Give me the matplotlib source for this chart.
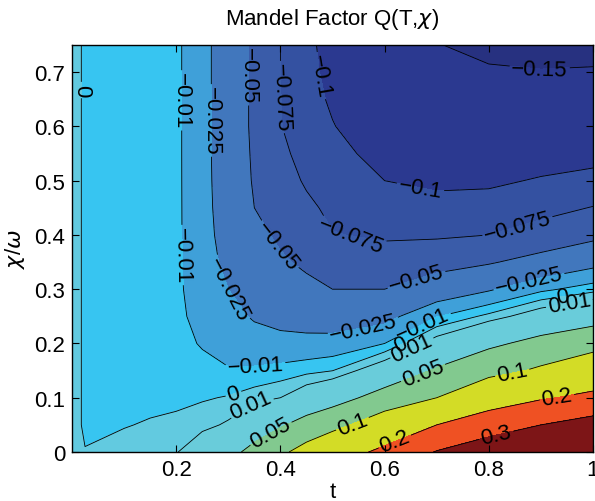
import numpy as np
import matplotlib
matplotlib.use("Agg")
import matplotlib.pyplot as plt

plt.rcParams['font.family'] = ['Liberation Sans', 'DejaVu Sans']
plt.rcParams['mathtext.fontset'] = 'dejavusans'

# grid: t along columns, chi/omega along rows
t_vals = [0.0, 0.025, 0.1, 0.15, 0.2, 0.25, 0.3, 0.35, 0.4, 0.45, 0.5, 0.6, 0.7, 0.8, 0.9, 1.0]
chi_vals = [0.0, 0.05, 0.1, 0.15, 0.2, 0.25, 0.3, 0.35, 0.4, 0.45, 0.5, 0.55, 0.6, 0.65, 0.7, 0.75]

# one list per t column, values for chi = 0 ... 0.75
q_t000 = [0.0005] * 16
q_t025 = [0.00005] + [-0.0002] * 15
q_t100 = [0.002, -0.0003, -0.0008] + [-0.001] * 13
q_t150 = [0.0045, 0.0005, -0.0015, -0.0025, -0.003, -0.0033] + [-0.0035] * 10
q_t200 = [0.009, 0.0022, -0.0022, -0.0048, -0.0062, -0.0069, -0.0073] + [-0.0075] * 9
q_t250 = [0.022, 0.0061, -0.0011, -0.0064, -0.011, -0.0145, -0.017, -0.0183,
          -0.0188, -0.019, -0.0192, -0.0193, -0.0193, -0.0193, -0.0193, -0.0193]
q_t300 = [0.039, 0.012, 0.0008, -0.0092, -0.0147, -0.0199, -0.025, -0.029,
          -0.032, -0.034, -0.035, -0.0355, -0.0357, -0.0357, -0.0357, -0.0357]
q_t350 = [0.061, 0.0306, 0.0054, -0.0083, -0.0183, -0.0267, -0.0326, -0.038,
          -0.044, -0.05, -0.052, -0.053, -0.054, -0.054, -0.054, -0.054]
q_t400 = [0.09, 0.046, 0.01, -0.0063, -0.020, -0.0305, -0.039, -0.047,
          -0.0538, -0.059, -0.064, -0.0693, -0.074, -0.0745, -0.075, -0.075]
q_t450 = [0.12, 0.065, 0.022, -0.0033, -0.02, -0.033, -0.0443, -0.054,
          -0.062, -0.070, -0.078, -0.084, -0.089, -0.092, -0.094, -0.095]
q_t500 = [0.155, 0.0826, 0.033, -0.0002, -0.019, -0.035, -0.05, -0.0625,
          -0.074, -0.0804, -0.086, -0.093, -0.099, -0.103, -0.106, -0.108]
q_t600 = [0.22, 0.134, 0.0667, 0.022, -0.01, -0.031, -0.05, -0.0647,
          -0.078, -0.089, -0.1, -0.108, -0.115, -0.121, -0.126, -0.13]
q_t700 = [0.305, 0.2, 0.1, 0.0545, 0.0173, -0.0107, -0.0375, -0.0583,
          -0.078, -0.0926, -0.1045, -0.109, -0.118, -0.127, -0.136, -0.149]
q_t800 = [0.36, 0.253, 0.153, 0.082, 0.042, 0.003, -0.027, -0.052,
          -0.075, -0.0906, -0.104, -0.115, -0.125, -0.136, -0.147, -0.157]
q_t900 = [0.41, 0.30, 0.192, 0.108, 0.0625, 0.020, -0.013, -0.042,
          -0.0646, -0.083, -0.098, -0.111, -0.124, -0.136, -0.149, -0.158]
q_t1000 = [0.45, 0.34, 0.219, 0.142, 0.080, 0.033, -0.004, -0.031,
           -0.0555, -0.074, -0.093, -0.108, -0.122, -0.135, -0.148, -0.158]

levels = [-0.15, -0.1, -0.075, -0.05, -0.025, -0.01, 0, 0.01, 0.05, 0.1, 0.2, 0.3]
band_colors = ['#273180', '#2B3990', '#3451A1', '#3A5CA9', '#4177BD', '#3FA0D9', '#37C5F1',
               '#62CAE0', '#69CCDA', '#82C98F', '#D3DC26', '#EF5123', '#7D1517']

# where the line labels sit
label_spots = [
    (0.897, 0.70),
    (0.48, 0.694), (0.667, 0.478),
    (0.409, 0.654), (0.534, 0.394), (0.853, 0.422),
    (0.338, 0.694), (0.38, 0.37), (0.662, 0.315),
    (0.262, 0.611), (0.294, 0.296), (0.559, 0.233), (0.878, 0.311),
    (0.217, 0.648), (0.217, 0.363), (0.352, 0.157), (0.673, 0.236),
    (0.022, 0.667), (0.31, 0.107), (0.63, 0.199), (0.94, 0.289),
    (0.342, 0.089), (0.655, 0.186), (0.955, 0.272),
    (0.38, 0.037), (0.673, 0.148),
    (0.54, 0.048), (0.846, 0.141),
    (0.62, 0.018), (0.932, 0.094),
    (0.815, 0.028),
]

Q = np.array([q_t000, q_t025, q_t100, q_t150, q_t200, q_t250, q_t300, q_t350, q_t400,
              q_t450, q_t500, q_t600, q_t700, q_t800, q_t900, q_t1000]).T
T, C = np.meshgrid(t_vals, chi_vals)


def fmt(v):
    return ('%g' % v).replace('-', '\u2212')


fig = plt.figure(figsize=(5.95, 5.02), dpi=100)
ax = fig.add_axes([72 / 595, 49 / 502, 521 / 595, 407 / 502])

fill_levels = [-1.0] + levels + [1.0]
ax.contourf(T, C, Q, levels=fill_levels, colors=band_colors)
cs = ax.contour(T, C, Q, levels=levels, colors='k', linewidths=0.6,
                negative_linestyles='solid')
ax.clabel(cs, manual=label_spots, fmt=fmt, fontsize=16, inline=True, inline_spacing=2)

ax.set_xlim(0.0, 1.0)
ax.set_ylim(0.0, 0.75)
ax.set_xticks([0.2, 0.4, 0.6, 0.8, 1.0])
ax.set_xticklabels(['0.2', '0.4', '0.6', '0.8', '1'])
ax.set_yticks([0, 0.1, 0.2, 0.3, 0.4, 0.5, 0.6, 0.7])
ax.set_yticklabels(['0', '0.1', '0.2', '0.3', '0.4', '0.5', '0.6', '0.7'])
ax.tick_params(direction='in', top=True, right=True, length=5, width=0.8,
               labelsize=16, colors='black', pad=5)
for sp in ax.spines.values():
    sp.set_linewidth(1.0)

ax.set_title(r'Mandel Factor Q(T,$\chi$)', fontsize=16, pad=15)
ax.set_xlabel('t', fontsize=16, labelpad=1)
ax.set_ylabel(r'$\chi$/$\omega$', fontsize=16, labelpad=5)

fig.savefig('out.png', dpi=100)
